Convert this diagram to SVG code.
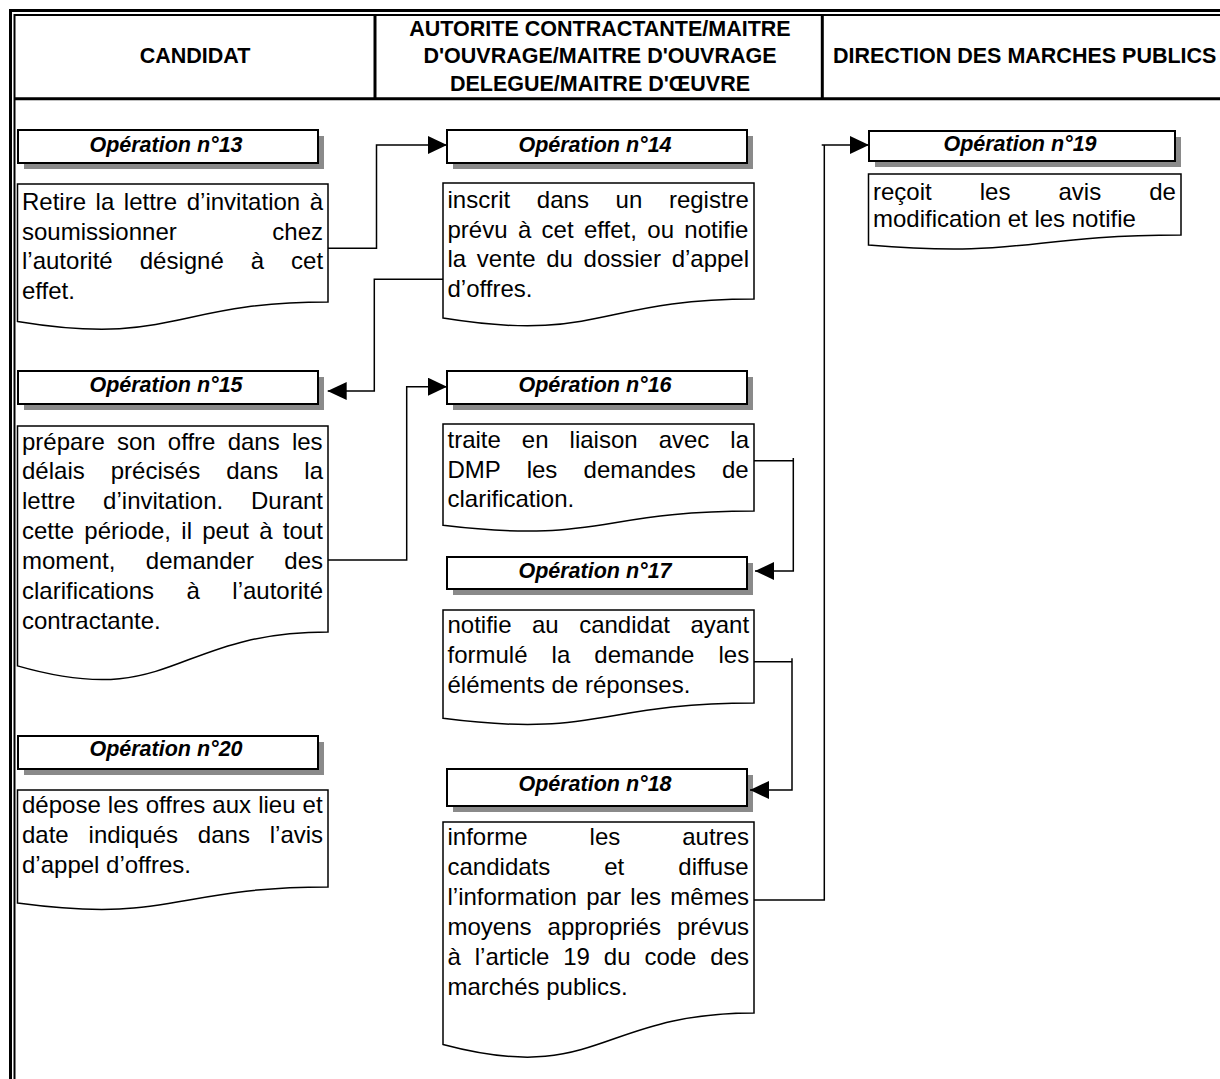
<svg xmlns="http://www.w3.org/2000/svg" width="1220" height="1079" viewBox="0 0 1220 1079">
<style>
.frame{fill:none;stroke:#000}
.hd{font-family:"Liberation Sans",Arial,sans-serif;font-size:21.5px;font-weight:bold;fill:#000}
.sh{fill:#8a8a8a}
.tb{fill:#fff;stroke:#000;stroke-width:2}
.tt{font-family:"Liberation Sans",Arial,sans-serif;font-size:21.5px;font-weight:bold;font-style:italic;fill:#000;text-anchor:middle}
.doc{fill:#fff;stroke:#000;stroke-width:1.5}
.bt{font-family:"Liberation Sans",Arial,sans-serif;font-size:24px;fill:#000}
.cn{fill:none;stroke:#000;stroke-width:1.5}
.ca{fill:none;stroke:#000;stroke-width:1.5;marker-end:url(#arr)}
</style>
<defs>
<marker id="arr" markerUnits="userSpaceOnUse" markerWidth="19" markerHeight="18" refX="19" refY="9" orient="auto" viewBox="0 0 19 18">
<path d="M0,0 L19,9 L0,18 Z" fill="#000"/>
</marker>
</defs>
<rect width="1220" height="1079" fill="#fff"/>

<g id="frame">
<path class="frame" d="M10.5,1079 V10.5 H1220" stroke-width="3"/>
<path class="frame" d="M14.5,1079 V15 H1220" stroke-width="2"/>
<path class="frame" d="M15,98.7 H1220" stroke-width="3"/>
<path class="frame" d="M375,15 V98" stroke-width="3"/>
<path class="frame" d="M822.3,15 V98" stroke-width="3"/>
</g>

<g id="headers">
<text class="hd" x="195" y="63" text-anchor="middle">CANDIDAT</text>
<text class="hd" text-anchor="middle"><tspan x="600" y="35.5">AUTORITE CONTRACTANTE/MAITRE</tspan><tspan x="600" y="63">D'OUVRAGE/MAITRE D'OUVRAGE</tspan><tspan x="600" y="90.5">DELEGUE/MAITRE D'ŒUVRE</tspan></text>
<text class="hd" x="833" y="63">DIRECTION DES MARCHES PUBLICS</text>
</g>

<g id="op13">
<rect class="sh" x="24" y="136" width="300" height="33"/>
<rect class="tb" x="18" y="130" width="300" height="33"/>
<text class="tt" x="166" y="152">Opération n°13</text>
<path class="doc" d="M17.5,184 H328 V302 C172.75,302 172.75,346.9 17.5,321.4 Z"/>
<text class="bt">
<tspan x="22" y="210" word-spacing="2.9">Retire la lettre d’invitation à</tspan>
<tspan x="22" y="239.7" word-spacing="88.9">soumissionner chez</tspan>
<tspan x="22" y="269.4" word-spacing="20.3">l’autorité désigné à cet</tspan>
<tspan x="22" y="299">effet.</tspan>
</text>
</g>

<g id="op14">
<rect class="sh" x="453" y="136" width="300" height="33"/>
<rect class="tb" x="447" y="130" width="300" height="33"/>
<text class="tt" x="595" y="152">Opération n°14</text>
<path class="doc" d="M443,183 H754 V299 C598.5,299 598.5,343.2 443,318.1 Z"/>
<text class="bt">
<tspan x="447.5" y="208.3" word-spacing="20">inscrit dans un registre</tspan>
<tspan x="447.5" y="237.8" word-spacing="3.7">prévu à cet effet, ou notifie</tspan>
<tspan x="447.5" y="267.3" word-spacing="4">la vente du dossier d’appel</tspan>
<tspan x="447.5" y="296.8">d’offres.</tspan>
</text>
</g>

<g id="op19">
<rect class="sh" x="875" y="137" width="306" height="30"/>
<rect class="tb" x="869" y="131" width="306" height="30"/>
<text class="tt" x="1020" y="151">Opération n°19</text>
<path class="doc" d="M868.5,174 H1181 V235 C1024.75,235 1024.75,258.2 868.5,245 Z"/>
<text class="bt">
<tspan x="873" y="199.5" word-spacing="41.4">reçoit les avis de</tspan>
<tspan x="873" y="227">modification et les notifie</tspan>
</text>
</g>

<g id="op15">
<rect class="sh" x="24" y="377" width="300" height="33"/>
<rect class="tb" x="18" y="371" width="300" height="33"/>
<text class="tt" x="166" y="392">Opération n°15</text>
<path class="doc" d="M17.5,426 H328 V632 C172.75,632 172.75,710.5 17.5,665.9 Z"/>
<text class="bt">
<tspan x="22" y="449.5" word-spacing="5.55">prépare son offre dans les</tspan>
<tspan x="22" y="479.4" word-spacing="19.4">délais précisés dans la</tspan>
<tspan x="22" y="509.3" word-spacing="21.1">lettre d’invitation. Durant</tspan>
<tspan x="22" y="539.2" word-spacing="3.6">cette période, il peut à tout</tspan>
<tspan x="22" y="569.1" word-spacing="23.8">moment, demander des</tspan>
<tspan x="22" y="599" word-spacing="25.8">clarifications à l’autorité</tspan>
<tspan x="22" y="628.9">contractante.</tspan>
</text>
</g>

<g id="op16">
<rect class="sh" x="453" y="377" width="300" height="33"/>
<rect class="tb" x="447" y="371" width="300" height="33"/>
<text class="tt" x="595" y="392">Opération n°16</text>
<path class="doc" d="M443,424 H754 V511 C598.5,511 598.5,544.2 443,525.3 Z"/>
<text class="bt">
<tspan x="447.5" y="448" word-spacing="14.35">traite en liaison avec la</tspan>
<tspan x="447.5" y="477.5" word-spacing="19.6">DMP les demandes de</tspan>
<tspan x="447.5" y="507">clarification.</tspan>
</text>
</g>

<g id="op17">
<rect class="sh" x="453" y="563" width="300" height="32"/>
<rect class="tb" x="447" y="557" width="300" height="32"/>
<text class="tt" x="595" y="578">Opération n°17</text>
<path class="doc" d="M443,610 H754 V703 C598.5,703 598.5,738.5 443,718.3 Z"/>
<text class="bt">
<tspan x="447.5" y="633.3" word-spacing="13.8">notifie au candidat ayant</tspan>
<tspan x="447.5" y="663" word-spacing="17.4">formulé la demande les</tspan>
<tspan x="447.5" y="692.7">éléments de réponses.</tspan>
</text>
</g>

<g id="op18">
<rect class="sh" x="453" y="775" width="300" height="37"/>
<rect class="tb" x="447" y="769" width="300" height="37"/>
<text class="tt" x="595" y="791">Opération n°18</text>
<path class="doc" d="M443,822 H754 V1013 C598.5,1013 598.5,1085.8 443,1044.5 Z"/>
<text class="bt">
<tspan x="447.5" y="845" word-spacing="55.35">informe les autres</tspan>
<tspan x="447.5" y="875" word-spacing="47.35">candidats et diffuse</tspan>
<tspan x="447.5" y="905" word-spacing="2.7">l’information par les mêmes</tspan>
<tspan x="447.5" y="935" word-spacing="9.35">moyens appropriés prévus</tspan>
<tspan x="447.5" y="965" word-spacing="7.2">à l’article 19 du code des</tspan>
<tspan x="447.5" y="995">marchés publics.</tspan>
</text>
</g>

<g id="op20">
<rect class="sh" x="24" y="742" width="300" height="33"/>
<rect class="tb" x="18" y="736" width="300" height="33"/>
<text class="tt" x="166" y="756">Opération n°20</text>
<path class="doc" d="M17.5,790 H328 V887 C172.75,887 172.75,923.9 17.5,903 Z"/>
<text class="bt">
<tspan x="22" y="813.3" word-spacing="0.44">dépose les offres aux lieu et</tspan>
<tspan x="22" y="843.3" word-spacing="13.2">date indiqués dans l’avis</tspan>
<tspan x="22" y="873.3">d’appel d’offres.</tspan>
</text>
</g>

<g id="connectors">
<path class="ca" d="M328,248.3 H376.5 V145 H447"/>
<path class="ca" d="M443,279.3 H374.3 V391 H327.7"/>
<path class="ca" d="M328,560 H406.7 V386.7 H447"/>
<path class="cn" d="M754,460.7 H793.3"/>
<path class="ca" d="M793.3,458 V571 H755"/>
<path class="cn" d="M754,661.7 H792"/>
<path class="ca" d="M792,658.3 V790 H750"/>
<path class="cn" d="M754,900 H824.3 V145"/>
<path class="ca" d="M821.7,145 H869"/>
</g>
</svg>
